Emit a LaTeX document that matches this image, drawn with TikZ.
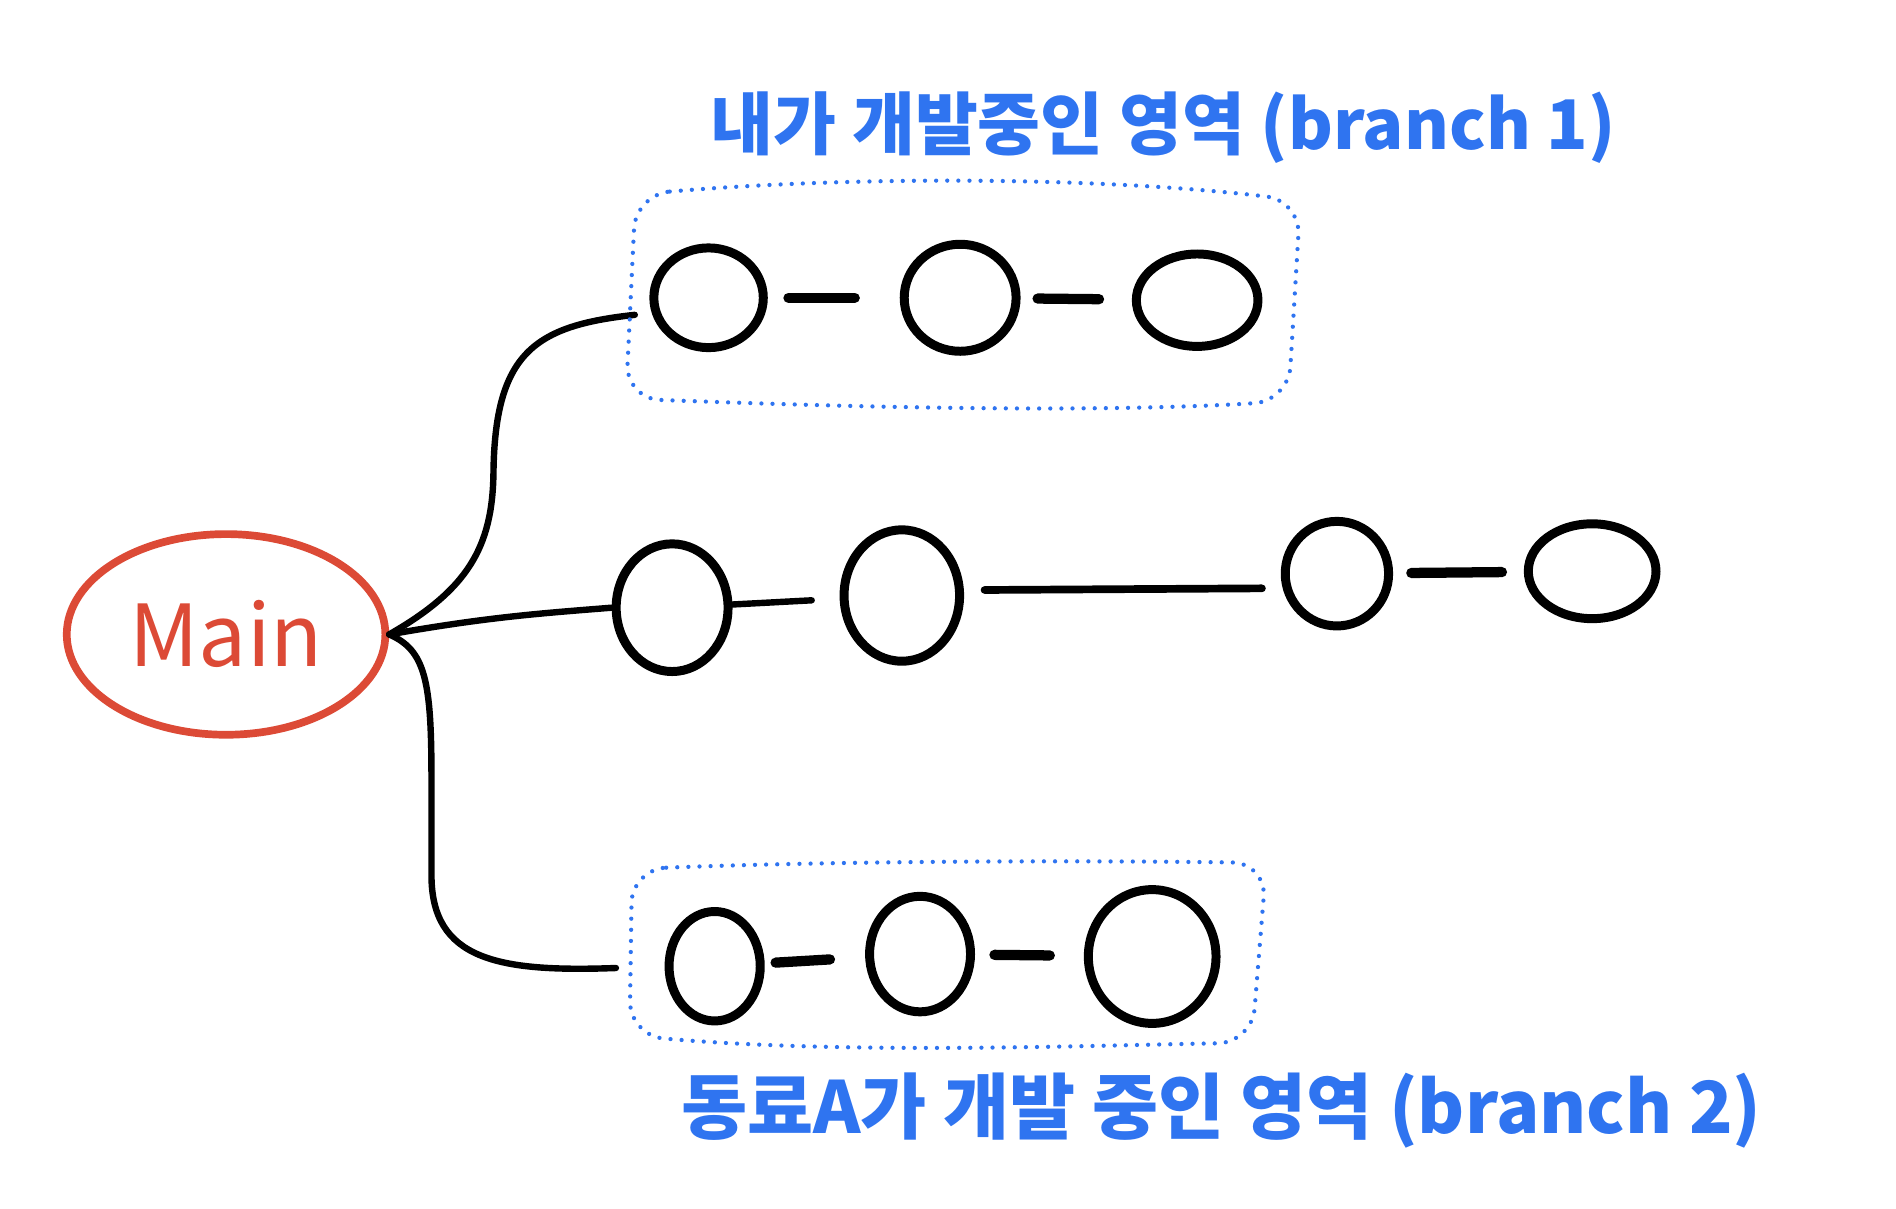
\documentclass[tikz,border=0pt]{standalone}
\usepackage{fontspec}
\usepackage{xcolor}
\usepackage{tikz}
\usetikzlibrary{arrows,backgrounds,calc,shapes.geometric}
\newfontfamily\hangul{Noto Sans CJK KR}
\definecolor{penblue}{HTML}{2F74F0}
\definecolor{penred}{HTML}{DC4A36}

\begin{document}
\begin{tikzpicture}[x=0.01cm,y=-0.01cm,
  commit/.style={ellipse,draw,line width=2.1pt,inner sep=0pt},
  link/.style={line width=1.5pt,line cap=round},
  tick/.style={line width=2.4pt,line cap=round},
  area/.style={draw=penblue,line width=1pt,line cap=round,dash pattern=on 0pt off 2.6pt,rounded corners=8pt},
  areatext/.style={text=penblue,font=\hangul\bfseries\fontsize{16}{16}\selectfont}]
\useasboundingbox (0,0) rectangle (1560,994);
\node[ellipse,draw=penred,line width=1.8pt,minimum width=2.62cm,minimum height=1.65cm,text=penred,font=\hangul\fontsize{20}{20}\selectfont] (main) at (186,522) {Main};
\node[commit,minimum width=0.9cm,minimum height=0.82cm] (t1) at (583,245) {};
\node[commit,minimum width=0.92cm,minimum height=0.88cm] (t2) at (790,245) {};
\node[commit,minimum width=1cm,minimum height=0.76cm] (t3) at (985,247) {};
\node[commit,minimum width=0.92cm,minimum height=1.05cm] (m1) at (553,500) {};
\node[commit,minimum width=0.95cm,minimum height=1.08cm] (m2) at (742,490) {};
\node[commit,minimum width=0.85cm,minimum height=0.86cm] (m3) at (1100,472) {};
\node[commit,minimum width=1.05cm,minimum height=0.78cm] (m4) at (1310,470) {};
\node[commit,minimum width=0.75cm,minimum height=0.9cm] (b1) at (588,795) {};
\node[commit,minimum width=0.83cm,minimum height=0.95cm] (b2) at (757,785) {};
\node[commit,minimum width=1.05cm,minimum height=1.1cm] (b3) at (948,787) {};
\draw[link,shorten >=0.14cm] (main.east) .. controls (385,485) and (405,450) .. (406,390) .. controls (407,290) and (440,268) .. (t1.195);
\draw[link] (main.east) .. controls (400,508) and (440,505) .. (m1.west);
\draw[link,shorten >=0.4cm] (main.east) .. controls (350,535) and (355,560) .. (355,640) -- (355,720) .. controls (355,790) and (410,800) .. (b1.west);
\draw[tick,shorten <=0.17cm,shorten >=0.37cm] (t1) -- (t2);
\draw[tick,shorten <=0.14cm,shorten >=0.27cm] (t2) -- (t3);
\draw[link,shorten >=0.23cm] (m1) -- (m2);
\draw[link,line width=1.8pt,shorten <=0.17cm,shorten >=0.17cm] (m2.5) -- (m3.195);
\draw[tick,shorten <=0.15cm,shorten >=0.18cm] (m3) -- (m4);
\draw[tick,shorten <=0.09cm,shorten >=0.29cm] (b1) -- (b2);
\draw[tick,shorten <=0.16cm,shorten >=0.28cm] (b2) -- (b3);
\draw[area] (523,160) .. controls (700,145) and (900,145) .. (1070,165) -- (1060,330) .. controls (900,340) and (700,335) .. (515,328) -- cycle;
\draw[area] (520,715) .. controls (700,708) and (900,708) .. (1042,710) -- (1030,858) .. controls (900,860) and (700,868) .. (518,852) -- cycle;
\node[areatext] (mine) at (957,105) {내가 개발중인 영역 (branch 1)};
\node[areatext,font=\hangul\bfseries\fontsize{16.8}{17}\selectfont] (peer) at (1005,914) {동료A가 개발 중인 영역 (branch 2)};
\end{tikzpicture}
\end{document}
